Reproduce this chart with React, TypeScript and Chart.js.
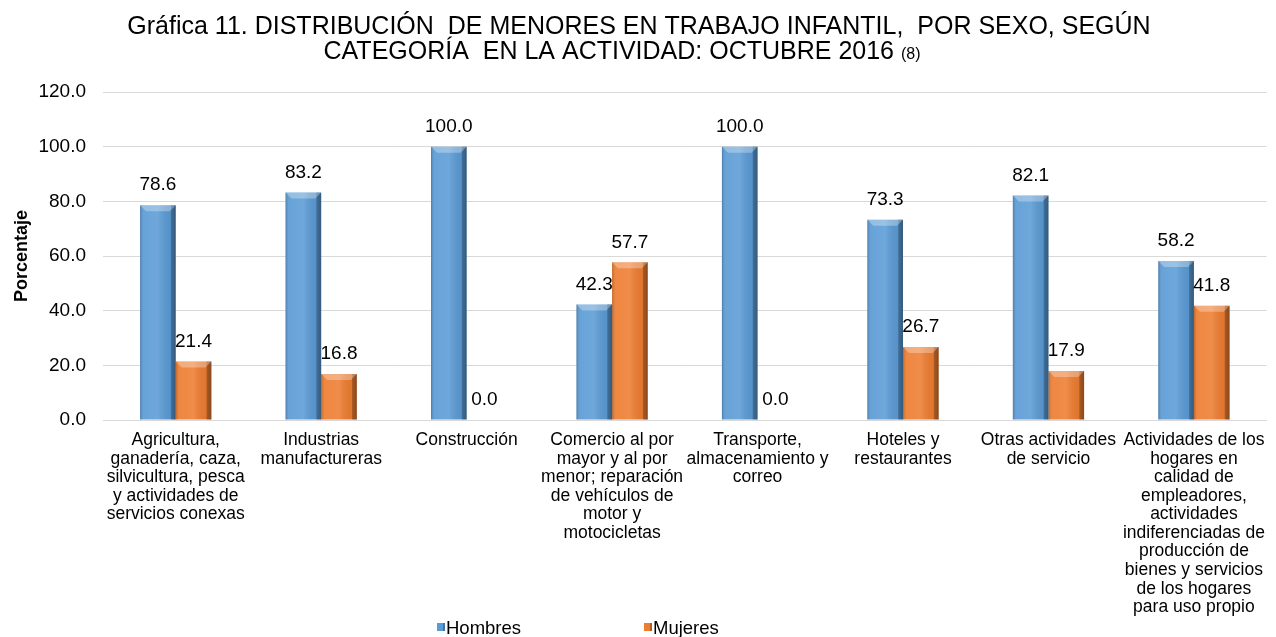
import React, { useEffect, useRef } from "react";
import { Chart, registerables } from "chart.js";

Chart.register(...registerables);

const categories: string[][] = [
  ["Agricultura,", "ganadería, caza,", "silvicultura, pesca", "y actividades de", "servicios conexas"],
  ["Industrias", "manufactureras"],
  ["Construcción"],
  ["Comercio al por", "mayor y al por", "menor; reparación", "de vehículos de", "motor y", "motocicletas"],
  ["Transporte,", "almacenamiento y", "correo"],
  ["Hoteles y", "restaurantes"],
  ["Otras actividades", "de servicio"],
  ["Actividades de los", "hogares en", "calidad de", "empleadores,", "actividades", "indiferenciadas de", "producción de", "bienes y servicios", "de los hogares", "para uso propio"],
];

const hombres = [78.6, 83.2, 100.0, 42.3, 100.0, 73.3, 82.1, 58.2];
const mujeres = [21.4, 16.8, 0.0, 57.7, 0.0, 26.7, 17.9, 41.8];
const seriesNames = ["Hombres", "Mujeres"];
const titleLine1 = "Gráfica 11. DISTRIBUCIÓN  DE MENORES EN TRABAJO INFANTIL,  POR SEXO, SEGÚN";
const titleLine2 = "CATEGORÍA  EN LA ACTIVIDAD: OCTUBRE 2016 ";
const titleNote = "(8)";
const yAxisTitle = "Porcentaje";

const FONT = "'Liberation Sans', Arial, sans-serif";
const BLUE = "#5B9BD5";
const ORANGE = "#ED7D31";

const decorPlugin = {
  id: "decor",
  afterDatasetsDraw(chart: any) {
    const ctx = chart.ctx;
    ctx.save();
    chart.data.datasets.forEach((ds: any, di: number) => {
      const meta = chart.getDatasetMeta(di);
      meta.data.forEach((bar: any, i: number) => {
        const { x, y, base, width } = bar.getProps(["x", "y", "base", "width"], true);
        const l = x - width / 2;
        const r = x + width / 2;
        const h = base - y;
        if (h > 1) {
          const g = ctx.createLinearGradient(l, 0, r, 0);
          g.addColorStop(0, "rgba(0,0,0,0.20)");
          g.addColorStop(0.1, "rgba(255,255,255,0.08)");
          g.addColorStop(0.5, "rgba(255,255,255,0.12)");
          g.addColorStop(0.85, "rgba(0,0,0,0.05)");
          g.addColorStop(0.88, "rgba(0,0,0,0.30)");
          g.addColorStop(1, "rgba(0,0,0,0.42)");
          ctx.fillStyle = g;
          ctx.fillRect(l, y, width, h);
          const bev = Math.min(6, h / 2);
          ctx.fillStyle = "rgba(255,255,255,0.30)";
          ctx.beginPath();
          ctx.moveTo(l, y);
          ctx.lineTo(r, y);
          ctx.lineTo(r - bev, y + bev);
          ctx.lineTo(l + bev, y + bev);
          ctx.closePath();
          ctx.fill();
        }
        const v = ds.data[i];
        ctx.fillStyle = "#000";
        ctx.font = `19px ${FONT}`;
        ctx.textAlign = "center";
        ctx.textBaseline = "middle";
        ctx.fillText(Number(v).toFixed(1), x, y - 20);
      });
    });
    ctx.restore();
  },
  afterDraw(chart: any) {
    const ctx = chart.ctx;
    ctx.save();
    ctx.fillStyle = "#000";
    ctx.textBaseline = "middle";
    ctx.textAlign = "left";
    ctx.font = `25px ${FONT}`;
    const w1 = ctx.measureText(titleLine1).width;
    ctx.fillText(titleLine1, 639 - w1 / 2, 27);
    const w2a = ctx.measureText(titleLine2).width;
    ctx.font = `16px ${FONT}`;
    const w2b = ctx.measureText(titleNote).width;
    const start = 622 - (w2a + w2b) / 2;
    ctx.font = `25px ${FONT}`;
    ctx.fillText(titleLine2, start, 52);
    ctx.font = `16px ${FONT}`;
    ctx.fillText(titleNote, start + w2a, 55);

    // legend
    const items = [
      { x: 437, color: BLUE },
      { x: 644, color: ORANGE },
    ];
    ctx.font = `18.5px ${FONT}`;
    items.forEach((it, k) => {
      ctx.fillStyle = it.color;
      ctx.fillRect(it.x, 623, 8, 8);
      ctx.fillStyle = "rgba(0,0,0,0.25)";
      ctx.fillRect(it.x + 6, 623, 2, 8);
      ctx.fillStyle = "#000";
      ctx.fillText(chart.data.datasets[k].label, it.x + 9, 629);
    });
    ctx.restore();
  },
};

export default function App() {
  const ref = useRef<HTMLCanvasElement>(null);
  useEffect(() => {
    if (!ref.current) return;
    const chart = new Chart(ref.current, {
      type: "bar",
      data: {
        labels: categories,
        datasets: [
          { label: seriesNames[0], data: hombres, backgroundColor: BLUE, borderWidth: 0 },
          { label: seriesNames[1], data: mujeres, backgroundColor: ORANGE, borderWidth: 0 },
        ],
      },
      plugins: [decorPlugin],
      options: {
        responsive: false,
        animation: false,
        maintainAspectRatio: false,
        layout: { padding: { top: 92, right: 1, left: 0, bottom: 0 } },
        datasets: { bar: { categoryPercentage: 0.49, barPercentage: 1.0 } },
        plugins: {
          legend: { display: false },
          title: { display: false },
          tooltip: { enabled: false },
        },
        scales: {
          x: {
            grid: { display: false, drawTicks: false },
            border: { display: true, color: "#D9D9D9", width: 1 },
            ticks: {
              autoSkip: false,
              maxRotation: 0,
              minRotation: 0,
              padding: 11,
              color: "#000",
              font: { family: FONT, size: 17.5, lineHeight: 1.06 },
            },
            afterFit: (s: any) => { s.height = 217; },
          },
          y: {
            min: 0,
            max: 120,
            ticks: {
              stepSize: 20,
              padding: 17,
              color: "#000",
              font: { family: FONT, size: 19 },
              callback: (v: any) => Number(v).toFixed(1),
            },
            grid: { color: "#D9D9D9", drawTicks: false },
            border: { display: false },
            title: {
              display: true,
              text: yAxisTitle,
              color: "#000",
              font: { family: FONT, size: 18, weight: "bold" },
              padding: { top: 11, bottom: 4 },
            },
            afterFit: (s: any) => { s.width = 103; },
          },
        },
      },
    });
    return () => chart.destroy();
  }, []);
  return (
    <div style={{ position: "fixed", left: 0, top: 0, width: 1276, height: 637, background: "#fff" }}>
      <canvas ref={ref} width={1276} height={637} style={{ width: 1276, height: 637 }} />
    </div>
  );
}
